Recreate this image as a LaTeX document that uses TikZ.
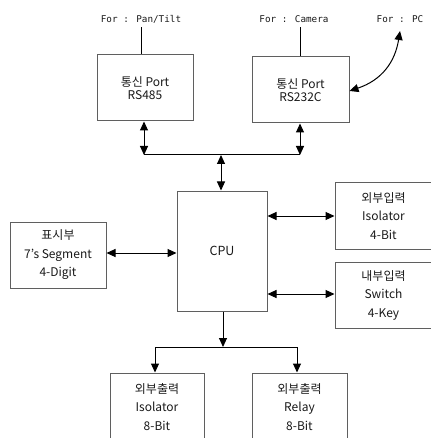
\documentclass[tikz,border=0pt]{standalone}
\usepackage{fontspec}
\setmainfont{Noto Sans CJK KR}
\newfontfamily\monof{DejaVu Sans Mono}
\usetikzlibrary{arrows.meta}
\definecolor{boxgray}{RGB}{95,95,95}
\definecolor{txtgray}{RGB}{25,25,25}
\tikzset{
  blk/.style={draw=boxgray, line width=1pt, inner sep=0pt, align=center, text=txtgray,
    font=\fontsize{12}{12.5}\selectfont},
  tall/.style={font=\fontsize{12}{18.5}\selectfont},
  lbl/.style={inner sep=0pt, text=txtgray, font=\monof\fontsize{9.3}{12}\selectfont},
  conn/.style={line width=1pt, black},
  tri/.tip={Triangle[length=9pt, width=8pt]},
  dbl/.style={conn, tri-tri},
  one/.style={conn, -tri}
}
\begin{document}
\begin{tikzpicture}[x=1pt, y=-1pt]
\useasboundingbox (0,0) rectangle (430,438);
% top labels
\node[lbl] (fpan) at (141,19) {For : Pan/Tilt};
\node[lbl] (fcam) at (294,19) {For : Camera};
\node[lbl] (fpc)  at (400,19) {For : PC};
% boxes
\node[blk, minimum width=96pt, minimum height=66pt] (rs485) at (145,88) {통신 Port\\RS485};
\node[blk, minimum width=97pt, minimum height=66pt] (rs232) at (300.5,90) {통신 Port\\RS232C};
\node[blk, minimum width=90pt, minimum height=120pt, font=\fontsize{12.5}{13}\selectfont] (cpu) at (222,251) {CPU};
\node[blk, tall, minimum width=96pt, minimum height=66pt] (disp) at (58,255) {표시부\\7's Segment\\4-Digit};
\node[blk, tall, minimum width=97pt, minimum height=66pt] (extin) at (383.5,216) {외부입력\\Isolator\\4-Bit};
\node[blk, tall, minimum width=97pt, minimum height=66pt] (intin) at (383.5,295) {내부입력\\Switch\\4-Key};
\node[blk, tall, minimum width=94pt, minimum height=68pt] (iso8) at (157,407) {외부출력\\Isolator\\8-Bit};
\node[blk, tall, minimum width=95pt, minimum height=68pt] (rly8) at (299.5,407) {외부출력\\Relay\\8-Bit};
% label lines
\draw[conn] (fpan.south) ++(0,4) -- (fpan.south |- rs485.north);
\draw[conn] (rs232.north |- fpan.south) ++(0,4) -- (rs232.north);
% bus
\coordinate (busL) at (144,155);
\coordinate (busR) at (300,155);
\coordinate (busC) at (221,155);
\draw[conn] (busL) -- (busR);
\draw[dbl] (rs485.south -| busL) -- (busL);
\draw[dbl] (rs232.south -| busR) -- (busR);
\draw[dbl] (busC) -- (cpu.north -| busC);
% PC link
\coordinate (pcend) at (400,31);
\draw[conn, tri-tri] (rs232.east |- 0,91) .. controls (382,80) and (395,62) .. (pcend);
% side links
\draw[dbl] (disp.east |- 0,253) -- (cpu.west |- 0,253);
\draw[dbl] (cpu.east |- 0,216) -- (extin.west |- 0,216);
\draw[dbl] (cpu.east |- 0,294) -- (intin.west |- 0,294);
% outputs
\coordinate (outC) at (223,347);
\coordinate (outL) at (155,347);
\coordinate (outR) at (297,347);
\draw[one] (cpu.south -| outC) -- (outC);
\draw[conn] (outL) -- (outR);
\draw[one] (outL) -- (outL |- iso8.north);
\draw[one] (outR) -- (outR |- rly8.north);
\end{tikzpicture}
\end{document}
